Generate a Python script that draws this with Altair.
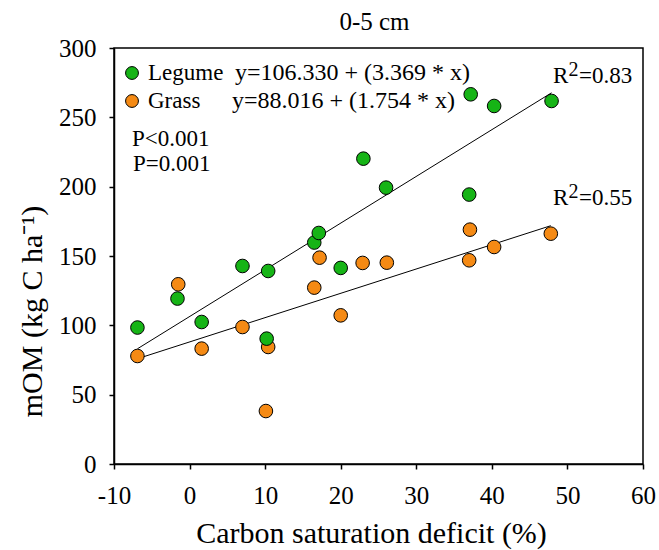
import altair as alt
import pandas as pd

# ---- data ----
legume_x = [-6.9, -1.6, 1.6, 7.0, 10.4, 10.2, 16.5, 17.1, 20.0, 23.0, 26.0, 37.0, 37.2, 40.3, 47.9]
legume_y = [98.4, 119.3, 102.4, 142.8, 139.2, 90.4, 159.7, 166.6, 141.4, 220.2, 199.3, 194.3, 266.6, 258.2, 261.8]
grass_x = [-6.9, -1.5, 1.6, 7.0, 10.4, 10.1, 16.5, 17.2, 20.0, 22.9, 26.1, 37.0, 37.1, 40.3, 47.8]
grass_y = [77.9, 129.6, 83.2, 98.8, 84.4, 38.2, 127.2, 148.8, 107.2, 145.0, 145.2, 146.9, 169.0, 156.5, 166.1]

groups = ["Grass", "Legume"]
colors = ["#F58A14", "#16B416"]
intercepts = {"Legume": 106.330, "Grass": 88.016}
slopes = {"Legume": 3.369, "Grass": 1.754}
equations = {"Legume": "y=106.330 + (3.369 * x)", "Grass": "y=88.016 + (1.754 * x)"}
p_texts = ["P<0.001", "P=0.001"]
r2_values = {"Legume": "=0.83", "Grass": "=0.55"}
chart_title = "0-5 cm"
x_ticks = [-10, 0, 10, 20, 30, 40, 50, 60]
y_ticks = [0, 50, 100, 150, 200, 250, 300]

FONT = "Liberation Serif"

pts = pd.DataFrame({
    "x": grass_x + legume_x,
    "y": grass_y + legume_y,
    "group": ["Grass"] * len(grass_x) + ["Legume"] * len(legume_x),
})

rows = []
for g, xs in (("Legume", legume_x), ("Grass", grass_x)):
    for xv in (min(xs), max(xs)):
        rows.append({"x": xv, "y": intercepts[g] + slopes[g] * xv, "group": g})
lines_df = pd.DataFrame(rows)

color_scale = alt.Scale(domain=groups, range=colors)

xenc = alt.X("x:Q", scale=alt.Scale(domain=[-10, 60], nice=False),
             axis=alt.Axis(values=x_ticks, title="Carbon saturation deficit (%)",
                           labelExpr="datum.value + ''", labelPadding=14, labelFlush=False,
                           titleBaseline="alphabetic", titleY=78, titleX=257))
yenc = alt.Y("y:Q", scale=alt.Scale(domain=[0, 300], nice=False),
             axis=alt.Axis(values=y_ticks, title="mOM (kg C ha⁻¹)", labelPadding=13,
                           labelFlush=False,
                           titleBaseline="alphabetic", titleX=-73, titleY=263))

lines = alt.Chart(lines_df).mark_line(color="black", strokeWidth=1).encode(
    x=xenc, y=yenc, detail="group:N")

points = alt.Chart(pts).mark_point(filled=True, shape="circle", size=185, opacity=1,
                                   stroke="black", strokeWidth=1).encode(
    x=xenc, y=yenc, color=alt.Color("group:N", scale=color_scale, legend=None))


def label(text, px, py, size=23, align="left", baseline="middle"):
    return alt.Chart(pd.DataFrame({"t": [text]})).mark_text(
        font=FONT, fontSize=size, align=align, baseline=baseline, color="black"
    ).encode(x=alt.value(px), y=alt.value(py), text="t:N")


def marker(group, px, py):
    return alt.Chart(pd.DataFrame({"group": [group]})).mark_point(
        filled=True, shape="circle", size=165, opacity=1, stroke="black", strokeWidth=1
    ).encode(x=alt.value(px), y=alt.value(py),
             color=alt.Color("group:N", scale=color_scale, legend=None))


def r_squared(value, px, py):
    # "R" + raised "2" + value
    return [
        label("R", px, py, size=23),
        label("2", px + 15.5, py - 6, size=20),
        label(value, px + 26, py, size=23),
    ]


annots = [
    label(chart_title, 260.5, -18, size=25, align="center", baseline="alphabetic"),
    marker("Legume", 18, 25), marker("Grass", 18, 53),
    label("Legume", 34, 25), label("Grass", 34, 53),
    label(equations["Legume"], 121, 25, size=24), label(equations["Grass"], 118, 53, size=24),
    label(p_texts[0], 18, 91), label(p_texts[1], 19, 116),
] + r_squared(r2_values["Legume"], 439, 28) + r_squared(r2_values["Grass"], 439, 150)

chart = alt.layer(lines, points, *annots).properties(
    width=529, height=416,
    padding={"left": 114, "top": 48, "right": 16, "bottom": 86},
    autosize=alt.AutoSizeParams(type="none"),
    background="white",
).configure_view(stroke="black", strokeWidth=1.5).configure_axis(
    grid=False, domainColor="black", domainWidth=1.5, tickColor="black",
    tickSize=5, tickWidth=1.5, labelFont=FONT, labelFontSize=25, labelColor="black",
    titleFont=FONT, titleFontSize=30, titleFontWeight="normal", titleColor="black",
)

chart.save("out.html", embed_options={"renderer": "svg", "actions": False})
